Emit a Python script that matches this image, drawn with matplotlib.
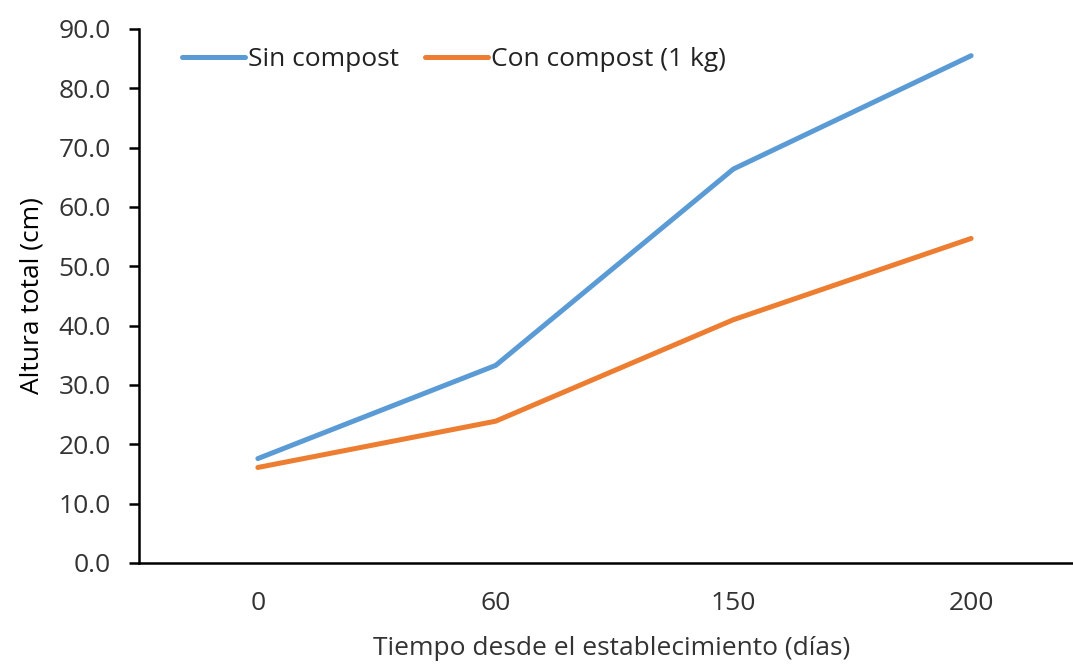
import matplotlib
matplotlib.use('Agg')
import matplotlib.pyplot as plt

# Datos
dias = ['0', '60', '150', '200']
sin_compost = [17.6, 33.3, 66.4, 85.5]
con_compost = [16.1, 23.9, 41.0, 54.7]

plt.rcParams['font.family'] = ['Open Sans', 'DejaVu Sans']

fig = plt.figure(figsize=(10.73, 6.66), dpi=100)
ax = fig.add_axes([139 / 1073, 1 - 563 / 666, (1090 - 139) / 1073, (563 - 29) / 666])

x = range(len(dias))
ax.plot(x, sin_compost, color='#5B9BD5', linewidth=3.6, solid_capstyle='round', label='Sin compost')
ax.plot(x, con_compost, color='#ED7D31', linewidth=3.6, solid_capstyle='round', label='Con compost (1 kg)')

ax.set_xlim(-0.5, len(dias) - 0.5)
ax.set_ylim(0, 90)
ax.set_yticks(range(0, 91, 10))
ax.set_yticklabels([f'{v:.1f}' for v in range(0, 91, 10)])
ax.set_xticks(list(x))
ax.set_xticklabels(dias)

for s in ['top', 'right']:
    ax.spines[s].set_visible(False)
ax.spines['left'].set_linewidth(1.8)
ax.spines['bottom'].set_linewidth(1.8)

fs = 19
ax.tick_params(axis='y', direction='out', length=7.5, width=1.8, pad=13, labelsize=fs, colors='black')
ax.tick_params(axis='y', labelcolor='#333333')
ax.tick_params(axis='x', length=0, pad=20, labelsize=fs, labelcolor='#333333')

ax.set_ylabel('Altura total (cm)', fontsize=fs, color='black', labelpad=10)
ax.set_xlabel('Tiempo desde el establecimiento (días)', fontsize=fs, color='#333333')
ax.xaxis.set_label_coords((612 - 139) / (1090 - 139), -(636 - 563) / (563 - 29))

ax.legend(loc='upper left', bbox_to_anchor=(0.02, 1.01), ncol=2, frameon=False, fontsize=fs,
          handlelength=2.4, handletextpad=0.1, columnspacing=1.0, labelcolor='#222222')

fig.savefig('out.png', dpi=100)
